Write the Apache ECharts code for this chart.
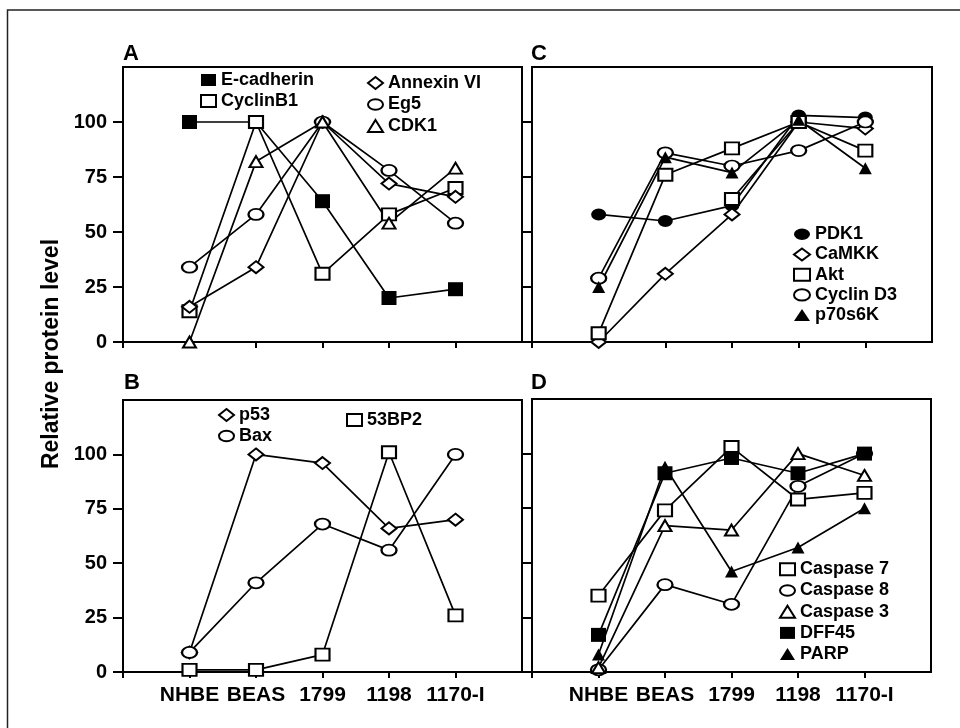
<!DOCTYPE html>
<html><head><meta charset="utf-8">
<script src="https://cdn.jsdelivr.net/npm/echarts@6/dist/echarts.min.js"></script>
<style>html,body{margin:0;padding:0;background:#fff}#c{width:960px;height:728px}</style>
</head><body><div id="c"></div>
<script>
// ---- data ----
const categories = ['NHBE', 'BEAS', '1799', '1198', '1170-I'];
const yTicks = [0, 25, 50, 75, 100];
// Panel A
const eCadherin = [100, 100, 64, 20, 24];
const cyclinB1 = [14, 100, 31, 58, 70];
const annexinVI = [16, 34, 100, 72, 66];
const eg5 = [34, 58, 100, 78, 54];
const cdk1 = [0, 82, 100, 54, 79];
// Panel B
const p53 = [9, 100, 96, 66, 70];
const bax = [9, 41, 68, 56, 100];
const bp53BP2 = [1, 1, 8, 101, 26];
// Panel C
const pdk1 = [58, 55, 62, 103, 102];
const camkk = [0, 31, 58, 100, 97];
const akt = [4, 76, 88, 100, 87];
const aktExtra = [null, null, 65, 100, null];
const cyclinD3 = [29, 86, 80, 87, 100];
const p70s6k = [25, 84, 77, 101, 79];
// Panel D
const casp7 = [35, 74, 103, 79, 82];
const casp8 = [1, 40, 31, 85, 100];
const casp3 = [2, 67, 65, 100, 90];
const dff45 = [17, 91, 98, 91, 100];
const parp = [8, 94, 46, 57, 75];

// ---- styles ----
const FONT = 'Liberation Sans, Arial, Helvetica, sans-serif';
const ELL = 'path://M0,5A7,5,0,1,1,14,5A7,5,0,1,1,0,5Z';
const SYM = {
  fsq: {symbol: 'rect', size: [15, 14], fill: '#000'},
  osq: {symbol: 'rect', size: [14, 12], fill: '#fff'},
  dia: {symbol: 'diamond', size: [15, 12], fill: '#fff'},
  ell: {symbol: ELL, size: [15, 11], fill: '#fff'},
  fell: {symbol: ELL, size: [15, 12], fill: '#000'},
  otri: {symbol: 'triangle', size: [13, 11], fill: '#fff'},
  ftri: {symbol: 'triangle', size: [13, 12], fill: '#000'}
};
const xCats = [''].concat(categories, ['']);

function mk(name, values, g, s) {
  const st = SYM[s];
  return {
    type: 'line', name: name, xAxisIndex: g, yAxisIndex: g,
    data: values.map((v, i) => [categories[i], v]),
    symbol: st.symbol, symbolSize: st.size,
    itemStyle: {color: st.fill, borderColor: '#000', borderWidth: st.fill === '#000' ? 0 : 2},
    lineStyle: {color: '#000', width: 1.7},
    emphasis: {disabled: true}, silent: true
  };
}
function legItem(name, s) {
  const st = SYM[s];
  return {name: name, icon: st.symbol,
    itemStyle: {color: st.fill, borderColor: '#000', borderWidth: st.fill === '#000' ? 0 : 2}};
}
function legend(items, left, top, lh, gap, iw, ih) {
  return {
    data: items, left: left, top: top, orient: 'vertical', padding: 0,
    itemGap: gap, itemWidth: iw, itemHeight: ih, selectedMode: false,
    textStyle: {fontFamily: FONT, fontSize: 18, fontWeight: 'bold', color: '#000', lineHeight: lh}
  };
}

const grids = [
  {left: 123, top: 67, width: 399, height: 275},
  {left: 123, top: 400, width: 399, height: 272},
  {left: 532, top: 67, width: 400, height: 275},
  {left: 532, top: 399, width: 399, height: 273}
].map(g => Object.assign({show: true, borderColor: '#000', borderWidth: 2, containLabel: false, outerBoundsMode: 'none'}, g));

const xAxes = [0, 1, 2, 3].map(i => ({
  type: 'category', gridIndex: i, data: xCats, boundaryGap: false,
  axisLine: {lineStyle: {color: '#000', width: 2}},
  axisTick: {length: 6, lineStyle: {color: '#000', width: 2}, interval: (idx) => idx < 6},
  axisLabel: {show: i === 1 || i === 3, interval: 0, margin: 13, color: '#000',
    fontFamily: FONT, fontSize: 21, fontWeight: 'bold'},
  splitLine: {show: false}
}));
const yAxes = [0, 1, 2, 3].map(i => ({
  type: 'value', gridIndex: i, min: 0, max: 125, interval: 25,
  axisLine: {show: true, lineStyle: {color: '#000', width: 2}},
  axisTick: {show: true, length: 10, customValues: yTicks, lineStyle: {color: '#000', width: 2}},
  axisLabel: {show: i < 2, customValues: yTicks, margin: 16, color: '#000',
    fontFamily: FONT, fontSize: 20, fontWeight: 'bold'},
  splitLine: {show: false}
}));

const series = [
  mk('E-cadherin', eCadherin, 0, 'fsq'),
  mk('CyclinB1', cyclinB1, 0, 'osq'),
  mk('Annexin VI', annexinVI, 0, 'dia'),
  mk('Eg5', eg5, 0, 'ell'),
  mk('CDK1', cdk1, 0, 'otri'),
  mk('p53', p53, 1, 'dia'),
  mk('Bax', bax, 1, 'ell'),
  mk('53BP2', bp53BP2, 1, 'osq'),
  mk('PDK1', pdk1, 2, 'fell'),
  mk('CaMKK', camkk, 2, 'dia'),
  mk('Akt', akt, 2, 'osq'),
  mk('Akt (2)', aktExtra, 2, 'osq'),
  mk('Cyclin D3', cyclinD3, 2, 'ell'),
  mk('p70s6K', p70s6k, 2, 'ftri'),
  mk('Caspase 7', casp7, 3, 'osq'),
  mk('Caspase 8', casp8, 3, 'ell'),
  mk('Caspase 3', casp3, 3, 'otri'),
  mk('DFF45', dff45, 3, 'fsq'),
  mk('PARP', parp, 3, 'ftri')
];

const legends = [
  legend([legItem('E-cadherin', 'fsq'), legItem('CyclinB1', 'osq')], 200, 69.5, 21, 0, 15, 12),
  legend([legItem('Annexin VI', 'dia'), legItem('Eg5', 'ell'), legItem('CDK1', 'otri')], 367, 72.5, 21, 0.5, 15, 12),
  legend([legItem('p53', 'dia'), legItem('Bax', 'ell')], 218, 404.5, 21, 0, 15, 12),
  legend([legItem('53BP2', 'osq')], 346, 409.5, 21, 0, 15, 12),
  legend([legItem('PDK1', 'fell'), legItem('CaMKK', 'dia'), legItem('Akt', 'osq'),
          legItem('Cyclin D3', 'ell'), legItem('p70s6K', 'ftri')], 793, 224.3, 20, 0.2, 16, 12),
  legend([legItem('Caspase 7', 'osq'), legItem('Caspase 8', 'ell'), legItem('Caspase 3', 'otri'),
          legItem('DFF45', 'fsq'), legItem('PARP', 'ftri')], 779, 558.8, 21, 0.2, 15, 12)
];

function letter(t, x, y) {
  return {type: 'text', left: x, top: y, style: {text: t, fill: '#000', font: 'bold 22px ' + FONT}};
}

const chart = echarts.init(document.getElementById('c'), null, {renderer: 'canvas'});
chart.setOption({
  animation: false,
  backgroundColor: '#fff',
  grid: grids, xAxis: xAxes, yAxis: yAxes, legend: legends, series: series,
  graphic: [
    {type: 'rect', shape: {x: 7.5, y: 10, width: 970, height: 740}, style: {fill: 'none', stroke: '#222', lineWidth: 1.5}, silent: true},
    letter('A', 123, 43), letter('C', 531, 43), letter('B', 124, 372), letter('D', 531, 372),
    {type: 'text', x: 52, y: 354, rotation: Math.PI / 2,
      style: {text: 'Relative protein level', fill: '#000', font: 'bold 23px ' + FONT,
        textAlign: 'center', textVerticalAlign: 'middle'}}
  ]
});
</script></body></html>
